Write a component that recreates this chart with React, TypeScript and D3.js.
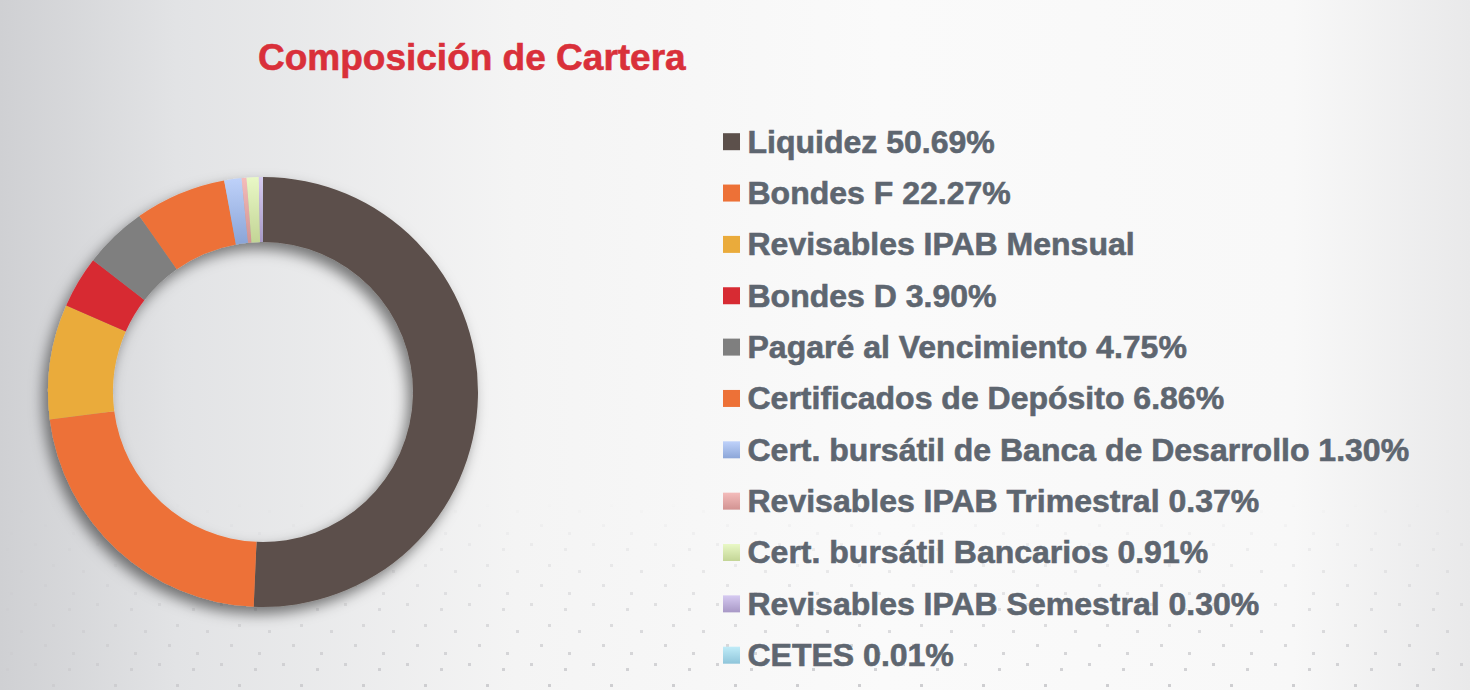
import React from "react";
import * as d3 from "d3";

const W = 1470;
const H = 690;

const TITLE = "Composición de Cartera";

const categories = [
  "Liquidez",
  "Bondes F",
  "Revisables IPAB Mensual",
  "Bondes D",
  "Pagaré al Vencimiento",
  "Certificados de Depósito",
  "Cert. bursátil de Banca de Desarrollo",
  "Revisables IPAB Trimestral",
  "Cert. bursátil Bancarios",
  "Revisables IPAB Semestral",
  "CETES",
];

// Percentages (IPAB Mensual not labelled: remainder read from the slice, ~8.64%)
const values = [50.69, 22.27, 8.64, 3.9, 4.75, 6.86, 1.3, 0.37, 0.91, 0.3, 0.01];

// which legend entries show the percentage
const showPct = [true, true, false, true, true, true, true, true, true, true, true];

const topColors = [
  "#5C504B", "#ED7137", "#EAAB3B", "#D72B33", "#7F7F7F", "#ED7137",
  "#BFD2FA", "#F4BCBB", "#E9F8C6", "#D6CAF1", "#C0ECF8",
];
const bottomColors = [
  "#5C504B", "#ED7137", "#EAAB3B", "#D72B33", "#7F7F7F", "#ED7137",
  "#8CA6D8", "#D29392", "#C3D596", "#A898C6", "#8FC5DA",
];

const cx = 263;
const cy = 392;
const rOuter = 215;
const rInner = 150;

const legendX = 723;
const legendY0 = 152.5;
const legendStep = 51.35;

// decorative dot pattern offsets (tile)
const dotTile = [
  [6, 8], [34, 3], [52, 24], [20, 30], [44, 44], [10, 52],
];

export default function App() {
  const pie = d3.pie<number>().sort(null).value((d) => d)(values);
  const arc = d3.arc<d3.PieArcDatum<number>>().innerRadius(rInner).outerRadius(rOuter);
  const font = "'Liberation Sans', Arial, Helvetica, sans-serif";

  return (
    <svg
      width={W}
      height={H}
      style={{ position: "absolute", left: 0, top: 0, display: "block" }}
      xmlns="http://www.w3.org/2000/svg"
    >
      <defs>
        <linearGradient id="bg" x1="0" y1="0" x2="1" y2="0">
          <stop offset="0" stopColor="#cfd0d3" />
          <stop offset="0.12" stopColor="#e2e3e5" />
          <stop offset="0.35" stopColor="#f4f4f4" />
          <stop offset="0.6" stopColor="#fafafa" />
          <stop offset="0.88" stopColor="#f8f8f8" />
          <stop offset="1" stopColor="#e9e9ea" />
        </linearGradient>
        <linearGradient id="dotFade" x1="0" y1="0" x2="0" y2="1">
          <stop offset="0" stopColor="#fff" stopOpacity="0" />
          <stop offset="1" stopColor="#fff" stopOpacity="1" />
        </linearGradient>
        <mask id="dotMask">
          <rect x={0} y={500} width={W} height={190} fill="url(#dotFade)" />
        </mask>
        <pattern id="dots" x="0" y="0" width="62" height="60" patternUnits="userSpaceOnUse">
          {dotTile.map(([x, y], i) => (
            <rect key={i} x={x} y={y} width={3} height={3} fill="#cdcdd0" />
          ))}
        </pattern>
        <filter id="shadow" x="-30%" y="-30%" width="160%" height="160%">
          <feDropShadow dx="-5" dy="7" stdDeviation="7" floodColor="#000" floodOpacity="0.5" />
        </filter>
        {values.map((_, i) => (
          <linearGradient key={i} id={`g${i}`} x1="0" y1="0" x2="0" y2="1">
            <stop offset="0" stopColor={topColors[i]} />
            <stop offset="1" stopColor={bottomColors[i]} />
          </linearGradient>
        ))}
        {values.map((_, i) => (
          <linearGradient
            key={`s${i}`}
            id={`sg${i}`}
            gradientUnits="userSpaceOnUse"
            x1="0"
            y1={-rOuter}
            x2="0"
            y2={-rInner}
          >
            <stop offset="0" stopColor={topColors[i]} />
            <stop offset="1" stopColor={bottomColors[i]} />
          </linearGradient>
        ))}
      </defs>

      <rect x={0} y={0} width={W} height={H} fill="url(#bg)" />
      <rect x={0} y={500} width={W} height={190} fill="url(#dots)" mask="url(#dotMask)" />

      <text
        x={258}
        y={70}
        fill="#D9303A"
        stroke="#D9303A"
        strokeWidth={0.6}
        fontFamily={font}
        fontWeight="bold"
        fontSize={37}
      >
        {TITLE}
      </text>

      <g transform={`translate(${cx},${cy})`} filter="url(#shadow)">
        {pie.map((p, i) => (
          <path key={i} d={arc(p) || ""} fill={`url(#sg${i})`} />
        ))}
      </g>

      <g>
        {categories.map((c, i) => {
          const y = legendY0 + i * legendStep;
          const label = showPct[i] ? `${c} ${values[i].toFixed(2)}%` : c;
          return (
            <g key={c}>
              <rect x={legendX} y={y - 19.3} width={17} height={17} fill={`url(#g${i})`} />
              <text
                x={legendX + 24.5}
                y={y}
                fill="#5E6670"
                stroke="#5E6670"
                strokeWidth={0.6}
                fontFamily={font}
                fontWeight="bold"
                fontSize={32}
              >
                {label}
              </text>
            </g>
          );
        })}
      </g>
    </svg>
  );
}
